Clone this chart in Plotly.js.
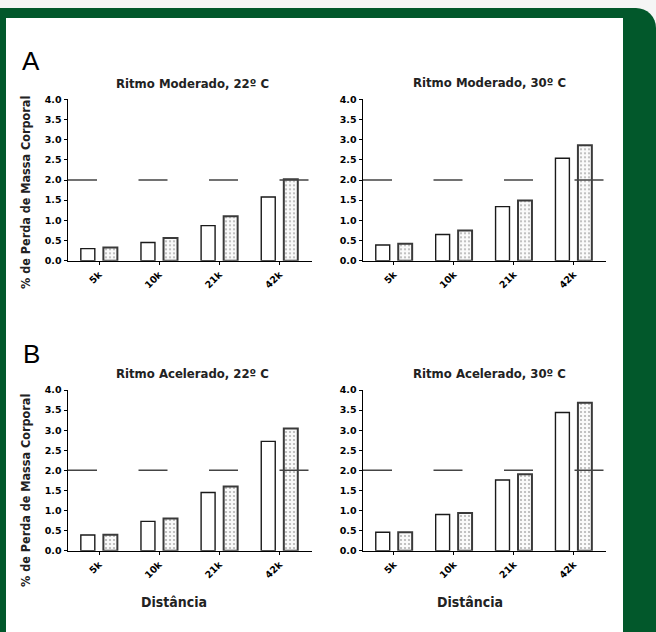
<!DOCTYPE html>
<html><head><meta charset="utf-8">
<script src="https://cdn.plot.ly/plotly-3.0.1.min.js"></script>
<style>
html,body{margin:0;padding:0;width:656px;height:632px;overflow:hidden;background:#f5f5f5;}
#bg{position:absolute;left:0;top:8px;width:656px;height:624px;background:#02582b;border-top-right-radius:20px;}
#panel{position:absolute;left:6px;top:18px;width:617px;height:614px;background:#ffffff;}
#chart{position:absolute;left:0;top:0;width:656px;height:632px;}
</style></head><body>
<div id="bg"></div><div id="panel"></div><div id="chart"></div>
<script>
// ---- data ----
const categories = ["5k", "10k", "21k", "42k"];
const panelTitles = ["Ritmo Moderado, 22º C", "Ritmo Moderado, 30º C", "Ritmo Acelerado, 22º C", "Ritmo Acelerado, 30º C"];
const panelLetters = ["A", "B"];
const yTitle = "% de Perda de Massa Corporal";
const xTitle = "Distância";
const yTickVals = [0, 0.5, 1.0, 1.5, 2.0, 2.5, 3.0, 3.5, 4.0];
const thresholdValue = 2.0;

const moderado22_open = [0.30, 0.45, 0.87, 1.58];
const moderado22_dotted = [0.33, 0.56, 1.10, 2.02];
const moderado30_open = [0.39, 0.65, 1.34, 2.54];
const moderado30_dotted = [0.42, 0.75, 1.49, 2.86];
const acelerado22_open = [0.39, 0.73, 1.45, 2.72];
const acelerado22_dotted = [0.40, 0.80, 1.60, 3.04];
const acelerado30_open = [0.46, 0.90, 1.76, 3.44];
const acelerado30_dotted = [0.46, 0.94, 1.90, 3.68];

const openSeries = [moderado22_open, moderado30_open, acelerado22_open, acelerado30_open];
const dottedSeries = [moderado22_dotted, moderado30_dotted, acelerado22_dotted, acelerado30_dotted];

// ---- layout geometry (pixels) ----
const W = 656, H = 632;
const boldFont = "Liberation Sans Narrow, DejaVu Sans Condensed, Roboto, Arial, sans-serif";
const xDomPx = [[68, 312], [363, 606], [68, 312], [363, 606]];
const yDomPx = [[99.3, 260.7], [99.3, 260.7], [390, 550.7], [390, 550.7]];

const traces = [];
const layout = {
  width: W, height: H,
  margin: {l: 0, r: 0, t: 0, b: 0},
  paper_bgcolor: "rgba(0,0,0,0)",
  plot_bgcolor: "rgba(0,0,0,0)",
  showlegend: false,
  barmode: "group",
  bargap: 0.25,
  bargroupgap: 0.38,
  shapes: [],
  annotations: []
};

for (let i = 0; i < 4; i++) {
  const sfx = i === 0 ? "" : String(i + 1);
  const xa = "x" + sfx, ya = "y" + sfx;
  traces.push({
    type: "bar", x: categories, y: openSeries[i], xaxis: xa, yaxis: ya,
    marker: {color: "#ffffff", line: {color: "#1a1a1a", width: 1.4}},
    hoverinfo: "y"
  });
  traces.push({
    type: "bar", x: categories, y: dottedSeries[i], xaxis: xa, yaxis: ya,
    marker: {color: "#ffffff", line: {color: "#3a3a3a", width: 2},
      pattern: {shape: ".", fgcolor: "#b4b4b4", bgcolor: "#fafafa", size: 4, solidity: 0.22, fillmode: "replace"}},
    hoverinfo: "y"
  });
  layout["xaxis" + sfx] = {
    domain: [xDomPx[i][0] / W, xDomPx[i][1] / W],
    anchor: ya,
    range: [-0.517, 3.54],
    showline: true, linecolor: "#000", linewidth: 1.5,
    ticks: "outside", ticklen: 3, tickwidth: 1, tickcolor: "#000",
    tickangle: -45,
    tickfont: {family: "DejaVu Sans, Arial, sans-serif", size: 9.5, color: "#000", weight: "bold"},
    showgrid: false, zeroline: false, fixedrange: true
  };
  layout["yaxis" + sfx] = {
    domain: [1 - yDomPx[i][1] / H, 1 - yDomPx[i][0] / H],
    anchor: xa,
    range: [0, 4],
    tickvals: yTickVals,
    tickformat: ".1f",
    showline: true, linecolor: "#000", linewidth: 1.5,
    ticks: "outside", ticklen: 3, tickwidth: 1, tickcolor: "#000",
    tickfont: {family: "DejaVu Sans, Arial, sans-serif", size: 9.5, color: "#000", weight: "bold"},
    showgrid: false, zeroline: false, fixedrange: true
  };
  layout.shapes.push({
    type: "line", xref: xa + " domain", yref: ya,
    x0: 0, x1: 1, y0: thresholdValue, y1: thresholdValue,
    line: {color: "#444", width: 1.5, dash: "29px,41.5px"}, layer: "above"
  });
}

// subplot titles
const titlePos = [[192, 83], [489, 82], [192, 373], [489, 373]];
for (let i = 0; i < 4; i++) {
  layout.annotations.push({
    xref: "paper", yref: "paper", x: titlePos[i][0] / W, y: 1 - titlePos[i][1] / H,
    xanchor: "center", yanchor: "middle", showarrow: false,
    text: panelTitles[i],
    font: {family: boldFont, size: 13, color: "#222", weight: "bold"}
  });
}
// panel letters
const letterPos = [[31, 61], [31, 354]];
for (let i = 0; i < 2; i++) {
  layout.annotations.push({
    xref: "paper", yref: "paper", x: letterPos[i][0] / W, y: 1 - letterPos[i][1] / H,
    xanchor: "center", yanchor: "middle", showarrow: false,
    text: panelLetters[i],
    font: {family: "Liberation Sans, Arial, sans-serif", size: 26, color: "#000"}
  });
}
// y titles
const yTitlePos = [[25, 193], [25, 491]];
for (let i = 0; i < 2; i++) {
  layout.annotations.push({
    xref: "paper", yref: "paper", x: yTitlePos[i][0] / W, y: 1 - yTitlePos[i][1] / H,
    xanchor: "center", yanchor: "middle", showarrow: false, textangle: -90,
    text: yTitle,
    font: {family: boldFont, size: 12.5, color: "#222", weight: "bold"}
  });
}
// x titles
const xTitlePos = [[174, 602], [470, 602]];
for (let i = 0; i < 2; i++) {
  layout.annotations.push({
    xref: "paper", yref: "paper", x: xTitlePos[i][0] / W, y: 1 - xTitlePos[i][1] / H,
    xanchor: "center", yanchor: "middle", showarrow: false,
    text: xTitle,
    font: {family: boldFont, size: 14, color: "#222", weight: "bold"}
  });
}

Plotly.newPlot("chart", traces, layout, {displayModeBar: false, staticPlot: true});
</script>
</body></html>
